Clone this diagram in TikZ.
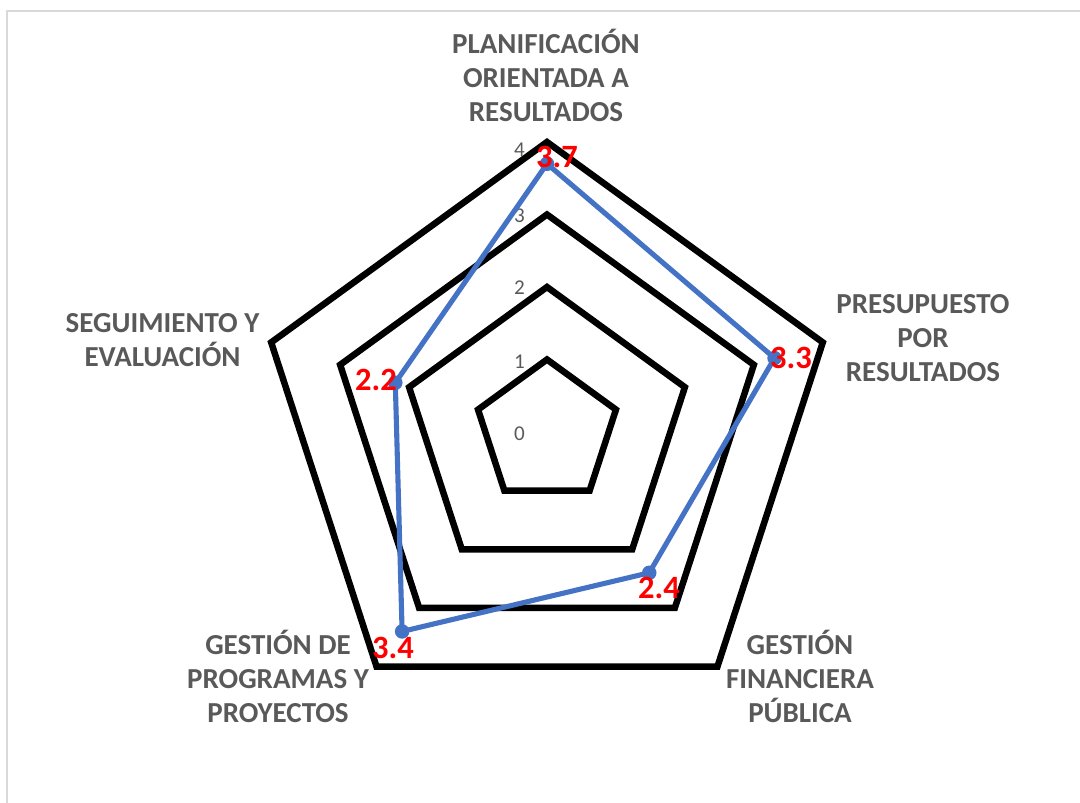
\documentclass[tikz,border=0pt]{standalone}
\usepackage{fontspec}
\setmainfont{Carlito}
\usepackage{xcolor}
\usepackage{tikz}
\usetikzlibrary{positioning}
\definecolor{axisgray}{HTML}{595959}
\definecolor{serieblue}{HTML}{4472C4}
\definecolor{framegray}{HTML}{D9D9D9}

\begin{document}
\begin{tikzpicture}[
    x=1.45cm, y=1.45cm,
    ring/.style={draw=black, line width=3.7pt},
    serie/.style={draw=serieblue, line width=2.9pt, line join=round},
    ptmark/.style={circle, fill=serieblue, inner sep=0pt, minimum size=0.29cm},
    vallbl/.style={text=red, font=\fontsize{18.5}{20}\selectfont\bfseries, inner sep=0pt},
    scalelbl/.style={text=axisgray, font=\fontsize{12}{14}\selectfont, anchor=east, inner sep=0pt},
    axislbl/.style={text=axisgray, font=\fontsize{16.5}{19.3}\selectfont\bfseries, align=center, inner sep=0pt}
]

\useasboundingbox (-7.545,-5.117) rectangle (7.352,5.959);

% chart frame
\coordinate (fbot) at (-7.448,-5.3);
\coordinate (fcorner) at (-7.448,5.807);
\coordinate (fright) at (7.5,5.807);
\draw[framegray, line width=1.1pt] (fbot) -- (fcorner) -- (fright);

% grid
\foreach \r in {1,...,4}
  \draw[ring] (90:\r) -- (162:\r) -- (234:\r) -- (306:\r) -- (18:\r) -- cycle;

\foreach \k/\y in {0/-0.03, 1/0.97, 2/1.99, 3/2.99, 4/3.89}
  \node[scalelbl] (s\k) at (-0.30,\y) {\k};

% axis titles
\node[axislbl] (plan) at (-0.014,4.924) {PLANIFICACIÓN\\ORIENTADA A\\RESULTADOS};
\node[axislbl] (pres) at (5.186,1.30) {PRESUPUESTO\\POR\\RESULTADOS};
\node[axislbl] (fin) at (3.490,-3.366) {GESTIÓN\\FINANCIERA\\PÚBLICA};
\node[axislbl] (prog) at (-3.710,-3.366) {GESTIÓN DE\\PROGRAMAS Y\\PROYECTOS};
\node[axislbl] (seg) at (-5.303,1.269) {SEGUIMIENTO Y\\EVALUACIÓN};

% series
\node[ptmark] (p1) at (90:3.7) {};
\node[ptmark] (p2) at (18:3.3) {};
\node[ptmark] (p3) at (-54:2.4) {};
\node[ptmark] (p4) at (234:3.4) {};
\node[ptmark] (p5) at (162:2.2) {};
\draw[serie] (p1.center) -- (p2.center) -- (p3.center) -- (p4.center) -- (p5.center) -- cycle;

\node[vallbl] (v1) at (0.138,3.793) {3.7};
\node[vallbl] (v2) at (3.366,1.021) {3.3};
\node[vallbl] (v3) at (1.545,-2.152) {2.4};
\node[vallbl] (v4) at (-2.124,-2.979) {3.4};
\node[vallbl] (v5) at (-2.359,0.717) {2.2};

\end{tikzpicture}
\end{document}
